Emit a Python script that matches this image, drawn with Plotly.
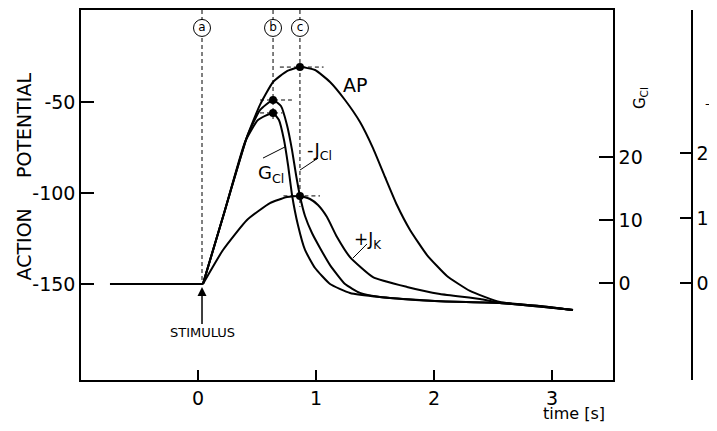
import plotly.graph_objects as go
import numpy as np

# ---------------- data ----------------
# time axis in s, membrane potential in mV (left axis)
t_base = [-0.746, 0.042]
v_base = [-150, -150]

t_ap = [0.042, 0.229, 0.415, 0.525, 0.636, 0.754, 0.864, 0.992, 1.119, 1.246,
        1.373, 1.483, 1.585, 1.686, 1.797, 1.941, 2.110, 2.305, 2.559, 2.898, 3.178]
v_ap = [-150, -109.3, -69.2, -51.6, -39.0, -33.0, -30.8, -32.4, -39.0, -48.9,
        -61.0, -75.3, -91.2, -106.6, -120.3, -134.1, -145.6, -153.8, -159.9, -162.1, -164.3]

t_jcl = [0.042, 0.229, 0.415, 0.525, 0.636, 0.703, 0.754, 0.797, 0.831, 0.864,
         0.907, 0.966, 1.034, 1.119, 1.246, 1.373, 1.542, 2.051, 2.559, 3.178]
v_jcl = [-150, -109.3, -69.2, -54.4, -48.9, -52.2, -62.6, -76.4, -90.1, -101.6,
         -112.6, -122.0, -130.2, -139.6, -150.0, -154.9, -157.1, -159.5, -160.4, -164.3]

t_gcl = [0.042, 0.229, 0.398, 0.508, 0.636, 0.686, 0.729, 0.763, 0.797, 0.847,
         0.907, 0.992, 1.119, 1.288, 1.542, 2.051, 2.559, 3.178]
v_gcl = [-150, -109.3, -72.0, -59.9, -56.0, -59.9, -70.9, -84.6, -101.1, -117.6,
         -131.3, -141.2, -150.0, -154.9, -157.1, -159.5, -160.4, -164.3]

t_jk = [0.042, 0.212, 0.415, 0.610, 0.754, 0.864, 0.949, 1.017, 1.093, 1.178,
        1.288, 1.483, 1.771, 2.051, 2.390, 2.559, 2.898, 3.178]
v_jk = [-150, -131.3, -114.8, -105.5, -102.2, -101.6, -103.3, -106.6, -113.2, -124.2,
        -135.2, -146.2, -151.6, -155.5, -158.2, -160.4, -162.1, -164.3]

stimulus_t = 0.034
x_ticks = [0, 1, 2, 3]
y_ticks = [-150, -100, -50]
g_ticks = [0, 10, 20]
j_ticks = [0, 1, 2]
marker_labels = ["a", "b", "c"]

# ---------------- layout constants ----------------
X_RANGE = [-0.9915, 3.517]
Y_RANGE = [-202.75, 0.56]
G_RANGE = [-15.40, 43.33]
J_RANGE = [-1.492, 4.2]
FONT = "DejaVu Sans"
CIRCLE_LEVEL = -9.3
PW = 624.0   # paper width in px
PH = 370.0   # paper height in px

def peak(t, v):
    i = int(np.argmax(v))
    return t[i], v[i]

ap_pk = peak(t_ap, v_ap)
jcl_pk = peak(t_jcl, v_jcl)
gcl_pk = peak(t_gcl, v_gcl)
jk_pk = peak(t_jk, v_jk)

fig = go.Figure()
curve = dict(color="black", width=2, shape="spline", smoothing=0.45)

fig.add_trace(go.Scatter(x=t_base, y=v_base, mode="lines",
                         line=dict(color="black", width=2)))
for t, v in [(t_ap, v_ap), (t_jcl, v_jcl), (t_gcl, v_gcl), (t_jk, v_jk)]:
    fig.add_trace(go.Scatter(x=t, y=v, mode="lines", line=curve))

dash = dict(color="black", width=1, dash="4px,3px")
# vertical dashed marker lines
marker_t = [stimulus_t, jcl_pk[0], ap_pk[0]]
marker_bottom = [v_base[0], gcl_pk[1] - 4, jk_pk[1] - 6]
for mt, mb in zip(marker_t, marker_bottom):
    fig.add_trace(go.Scatter(x=[mt, mt], y=[Y_RANGE[1], mb], mode="lines", line=dash))

# horizontal dashed lines through peaks
for (pt, pv), (dl, dr) in zip([ap_pk, jcl_pk, gcl_pk, jk_pk],
                              [(0.17, 0.2), (0.11, 0.16), (0.11, 0.08), (0.14, 0.17)]):
    fig.add_trace(go.Scatter(x=[pt - dl, pt + dr], y=[pv, pv], mode="lines", line=dash))

# peak dots
pk = [ap_pk, jcl_pk, gcl_pk, jk_pk]
fig.add_trace(go.Scatter(x=[p[0] for p in pk], y=[p[1] for p in pk],
                         mode="markers", marker=dict(color="black", size=8)))

# circled labels a, b, c
fig.add_trace(go.Scatter(x=marker_t, y=[CIRCLE_LEVEL] * 3, mode="markers+text",
                         text=marker_labels, textposition="middle center",
                         textfont=dict(family=FONT, size=12, color="black"),
                         marker=dict(symbol="circle", size=17, color="white",
                                     line=dict(color="black", width=1))))

# leader lines for labels
leaders = [([0.551, 0.737], [-80.8, -74.7]),
           ([1.017, 0.864], [-80.8, -87.4]),
           ([1.314, 1.432], [-135.7, -128.0])]
for lx, ly in leaders:
    fig.add_trace(go.Scatter(x=lx, y=ly, mode="lines", line=dict(color="black", width=1)))

# dummy traces to carry the secondary axes
fig.add_trace(go.Scatter(x=[None], y=[None], yaxis="y2", mode="lines"))
fig.add_trace(go.Scatter(x=[None], y=[None], yaxis="y3", mode="lines"))

def font(s):
    return dict(family=FONT, size=s, color="black")

ann = []
nb = "\u00a0"
ann.append(dict(text="ACTION" + nb * 5 + "POTENTIAL", textangle=-90,
                xref="paper", yref="paper", x=(24 - 81) / PW, y=(380 - 176.5) / PH,
                font=font(19)))
ann.append(dict(text="AP", x=1.33, y=-40.6, xref="x", yref="y", font=font(19)))
ann.append(dict(text="G<sub>Cl</sub>", x=0.62, y=-89.5, xref="x", yref="y", font=font(18)))
ann.append(dict(text="-J<sub>Cl</sub>", x=1.03, y=-77.0, xref="x", yref="y", font=font(18)))
ann.append(dict(text="+J<sub>K</sub>", x=1.44, y=-126.0, xref="x", yref="y", font=font(17)))
ann.append(dict(text="time [s]", xref="paper", yref="paper", x=(574 - 81) / PW,
                y=(380 - 413) / PH, font=font(16)))
ann.append(dict(text="G<sub>Cl</sub>", textangle=-90, xref="paper", yref="paper",
                x=(640 - 81) / PW, y=(380 - 98) / PH, font=font(15)))
ann.append(dict(text="\u2013", xref="paper", yref="paper", x=(708 - 81) / PW,
                y=(380 - 103) / PH, font=font(14)))
for a in ann:
    a.update(showarrow=False, xanchor="center", yanchor="middle")
ann.append(dict(text="STIMULUS", x=stimulus_t, y=-151.6, xref="x", yref="y",
                showarrow=True, ax=0, ay=46, arrowhead=2, arrowsize=1.2, arrowwidth=1.5,
                arrowcolor="black", standoff=0, xanchor="center", yanchor="middle",
                font=font(13)))

axis_common = dict(showgrid=False, zeroline=False, showline=True, linecolor="black",
                   linewidth=1.5, ticks="inside", tickcolor="black", tickwidth=1.5,
                   automargin=False, tickfont=font(19))

# The page body has an 8 px margin, so the figure is drawn 8 px smaller and
# its own margins are reduced by 8 px on the left/top.
fig.update_layout(
    width=709, height=423,
    margin=dict(l=73, r=12, t=2, b=51),
    paper_bgcolor="white", plot_bgcolor="white",
    showlegend=False,
    annotations=ann,
    xaxis=dict(domain=[0, 532 / PW], range=X_RANGE, tickvals=x_ticks,
               ticktext=[str(v) for v in x_ticks], ticklen=10, mirror=True, **axis_common),
    yaxis=dict(range=Y_RANGE, tickvals=y_ticks, ticktext=[str(v) for v in y_ticks],
               ticklen=13, **axis_common),
    yaxis2=dict(range=G_RANGE, overlaying="y", side="right", anchor="x",
                tickvals=g_ticks, ticktext=[str(v) for v in g_ticks], ticklen=14,
                **axis_common),
    yaxis3=dict(range=J_RANGE, overlaying="y", side="right", anchor="free",
                position=(692 - 81) / PW, tickvals=j_ticks,
                ticktext=[str(v) for v in j_ticks], ticklen=11, **axis_common),
)

fig.write_html("out.html")
